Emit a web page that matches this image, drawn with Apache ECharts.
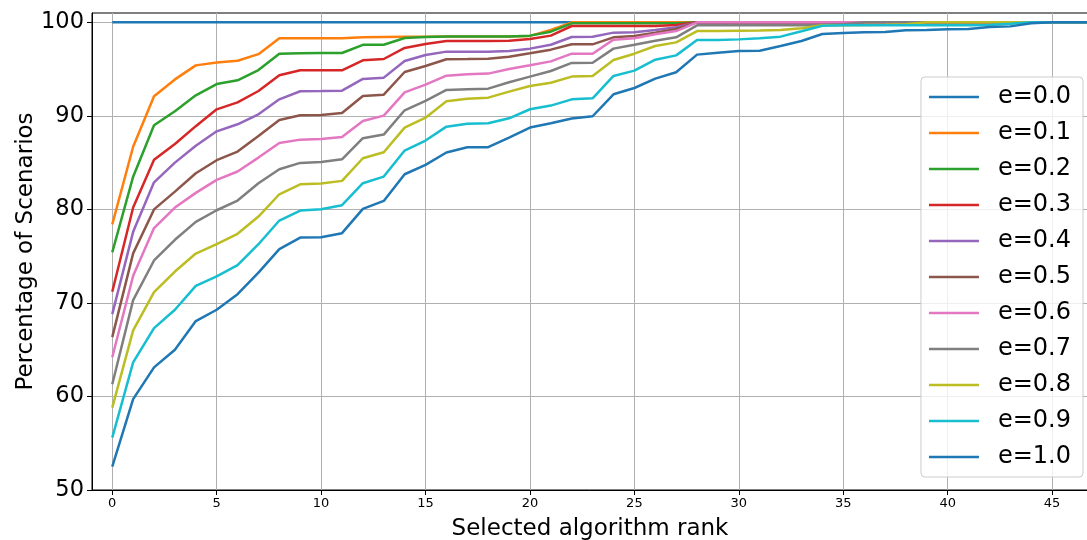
<!DOCTYPE html>
<html>
<head>
<meta charset="utf-8">
<script src="https://cdn.jsdelivr.net/npm/echarts@6/dist/echarts.min.js"></script>
<style>
  html, body { margin: 0; padding: 0; background: #ffffff; }
  #chart { width: 1087px; height: 540px; }
</style>
</head>
<body>
<div id="chart"></div>
<script>
// Selected algorithm rank (x positions of every curve)
const ranks = Array.from({ length: 48 }, (_, i) => i);

// Tick labels
const xTicks = [0, 5, 10, 15, 20, 25, 30, 35, 40, 45];
const yTicks = [50, 60, 70, 80, 90, 100];

// Legend names, one per curve
const seriesNames = ['e=0.0', 'e=0.1', 'e=0.2', 'e=0.3', 'e=0.4', 'e=0.5',
                     'e=0.6', 'e=0.7', 'e=0.8', 'e=0.9', 'e=1.0'];

// Percentage of scenarios per rank, one list per e value
const e00 = [100, 100, 100, 100, 100, 100, 100, 100, 100, 100, 100, 100, 100, 100, 100, 100,
             100, 100, 100, 100, 100, 100, 100, 100, 100, 100, 100, 100, 100, 100, 100, 100,
             100, 100, 100, 100, 100, 100, 100, 100, 100, 100, 100, 100, 100, 100, 100, 100];
const e01 = [78.4, 86.7, 92.1, 93.9, 95.4, 95.7, 95.9, 96.6, 98.3, 98.3, 98.3, 98.3, 98.4, 98.43, 98.45, 98.47,
             98.5, 98.5, 98.5, 98.5, 98.55, 99.2, 100, 100, 100, 100, 100, 100, 100, 100, 100, 100,
             100, 100, 100, 100, 100, 100, 100, 100, 100, 100, 100, 100, 100, 100, 100, 100];
const e02 = [75.4, 83.5, 89.0, 90.5, 92.2, 93.4, 93.8, 94.9, 96.65, 96.7, 96.72, 96.72, 97.6, 97.6, 98.33, 98.43,
             98.5, 98.5, 98.5, 98.5, 98.58, 99.0, 99.9, 99.9, 99.9, 99.9, 99.9, 99.9, 100, 100, 100, 100,
             100, 100, 100, 100, 100, 100, 100, 100, 100, 100, 100, 100, 100, 100, 100, 100];
const e03 = [71.2, 80.2, 85.3, 87.0, 88.9, 90.7, 91.45, 92.66, 94.34, 94.87, 94.87, 94.87, 95.94, 96.08, 97.26, 97.69,
             98.0, 98.0, 98.0, 98.04, 98.22, 98.58, 99.61, 99.61, 99.61, 99.61, 99.61, 99.72, 100, 100, 100, 100,
             100, 100, 100, 100, 100, 100, 100, 100, 100, 100, 100, 100, 100, 100, 100, 100];
const e04 = [68.8, 77.6, 82.9, 85.0, 86.8, 88.35, 89.1, 90.17, 91.77, 92.63, 92.66, 92.7, 93.95, 94.09, 95.87, 96.51,
             96.87, 96.87, 96.87, 96.94, 97.19, 97.61, 98.43, 98.47, 98.9, 98.93, 99.18, 99.47, 100, 100, 100, 100,
             100, 100, 100, 100, 100, 100, 100, 100, 100, 100, 100, 100, 100, 100, 100, 100];
const e05 = [66.35, 75.3, 80.0, 81.9, 83.87, 85.26, 86.18, 87.86, 89.57, 90.06, 90.1, 90.31, 92.13, 92.27, 94.69, 95.33,
             96.05, 96.08, 96.12, 96.33, 96.69, 97.08, 97.65, 97.65, 98.4, 98.54, 98.9, 99.29, 100, 100, 100, 100,
             100, 100, 100, 100, 100, 100, 100, 100, 100, 100, 100, 100, 100, 100, 100, 100];
const e06 = [64.2, 72.9, 78.0, 80.2, 81.77, 83.16, 84.05, 85.54, 87.11, 87.46, 87.54, 87.75, 89.46, 90.03, 92.52, 93.34,
             94.3, 94.44, 94.52, 95.01, 95.41, 95.83, 96.65, 96.65, 98.15, 98.29, 98.72, 99.07, 100, 100, 100, 100,
             100, 100, 100, 100, 100, 100, 100, 100, 100, 100, 100, 100, 100, 100, 100, 100];
const e07 = [61.3, 70.3, 74.54, 76.75, 78.67, 79.91, 80.95, 82.8, 84.3, 84.97, 85.08, 85.36, 87.61, 88.0, 90.6, 91.6,
             92.77, 92.84, 92.91, 93.59, 94.2, 94.8, 95.66, 95.69, 97.19, 97.61, 98.04, 98.4, 99.68, 99.68, 99.68, 99.68,
             99.7, 99.7, 99.72, 99.8, 100, 100, 100, 100, 100, 100, 100, 100, 100, 100, 100, 100];
const e08 = [58.8, 67.06, 71.15, 73.36, 75.28, 76.28, 77.39, 79.24, 81.62, 82.69, 82.76, 83.05, 85.47, 86.11, 88.75, 89.81,
             91.56, 91.84, 91.95, 92.59, 93.2, 93.55, 94.2, 94.27, 95.98, 96.65, 97.47, 97.86, 99.07, 99.07, 99.11, 99.14,
             99.18, 99.36, 99.68, 99.7, 99.72, 99.75, 99.8, 100, 100, 100, 100, 100, 100, 100, 100, 100];
const e09 = [55.6, 63.64, 67.31, 69.27, 71.83, 72.83, 74.04, 76.28, 78.81, 79.88, 80.02, 80.45, 82.8, 83.51, 86.29, 87.36,
             88.85, 89.17, 89.21, 89.74, 90.71, 91.1, 91.77, 91.88, 94.27, 94.84, 96.01, 96.47, 98.11, 98.11, 98.18, 98.29,
             98.47, 99.04, 99.64, 99.68, 99.68, 99.68, 99.7, 99.7, 99.7, 99.7, 99.72, 99.85, 100, 100, 100, 100];
const e10 = [52.5, 59.72, 63.11, 65.0, 68.06, 69.27, 70.94, 73.25, 75.75, 76.99, 77.03, 77.46, 80.06, 80.91, 83.76, 84.76,
             86.08, 86.65, 86.65, 87.68, 88.75, 89.21, 89.71, 89.96, 92.31, 92.98, 93.98, 94.66, 96.55, 96.76, 96.94, 96.97,
             97.47, 98.0, 98.75, 98.86, 98.93, 98.97, 99.15, 99.18, 99.25, 99.28, 99.5, 99.57, 99.9, 100, 100, 100];

const seriesValues = [e00, e01, e02, e03, e04, e05, e06, e07, e08, e09, e10];

// tab10 palette; the eleventh curve wraps back to the first colour
const palette = ['#1f77b4', '#ff7f0e', '#2ca02c', '#d62728', '#9467bd', '#8c564b',
                 '#e377c2', '#7f7f7f', '#bcbd22', '#17becf', '#1f77b4'];

const FONT = '"DejaVu Sans", sans-serif';

const chart = echarts.init(document.getElementById('chart'), null, { renderer: 'canvas' });

chart.setOption({
  animation: false,
  backgroundColor: '#ffffff',
  color: palette,
  grid: {
    left: 92, right: -1, top: 13, bottom: 50,
    outerBoundsMode: 'none',
    containLabel: false,
    show: true, borderColor: '#000000', borderWidth: 1, backgroundColor: 'transparent'
  },
  xAxis: {
    type: 'value',
    min: -0.97,
    max: 46.72,
    name: 'Selected algorithm rank',
    nameLocation: 'middle',
    nameGap: 28,
    nameMoveOverlap: false,
    nameTextStyle: { fontFamily: FONT, fontSize: 23, color: '#000' },
    axisLine: { show: true, onZero: false, lineStyle: { color: '#000', width: 1 } },
    axisTick: { show: true, length: 5, customValues: xTicks, lineStyle: { color: '#000' } },
    axisLabel: { customValues: xTicks, fontFamily: FONT, fontSize: 13, color: '#000', margin: 7 },
    splitLine: { show: true, lineStyle: { color: '#b0b0b0', width: 1 } }
  },
  yAxis: {
    type: 'value',
    min: 50,
    max: 101,
    name: 'Percentage of Scenarios',
    nameLocation: 'middle',
    nameGap: 54,
    nameMoveOverlap: false,
    nameRotate: 90,
    nameTextStyle: { fontFamily: FONT, fontSize: 23, color: '#000' },
    axisLine: { show: true, onZero: false, lineStyle: { color: '#000', width: 1 } },
    axisTick: { show: true, length: 5, customValues: yTicks, lineStyle: { color: '#000' } },
    axisLabel: { customValues: yTicks, fontFamily: FONT, fontSize: 22.5, color: '#000', margin: 8 },
    splitLine: { show: true, lineStyle: { color: '#b0b0b0', width: 1 } }
  },
  legend: {
    orient: 'vertical',
    right: 4,
    top: 77,
    padding: [8, 12, 8, 8],
    icon: 'rect',
    itemWidth: 50,
    itemHeight: 2.5,
    itemGap: 12,
    backgroundColor: 'rgba(255,255,255,0.8)',
    borderColor: '#cccccc',
    borderWidth: 1,
    borderRadius: 4,
    textStyle: { fontFamily: FONT, fontSize: 24, lineHeight: 24, color: '#000', padding: [0, 0, 0, 14] },
    data: seriesNames
  },
  series: seriesNames.map((name, i) => ({
    name: name,
    type: 'line',
    showSymbol: false,
    symbol: 'none',
    clip: true,
    lineStyle: { width: 2.5, color: palette[i] },
    itemStyle: { color: palette[i] },
    data: ranks.map((r, k) => [r, seriesValues[i][k]])
  }))
});
</script>
</body>
</html>
